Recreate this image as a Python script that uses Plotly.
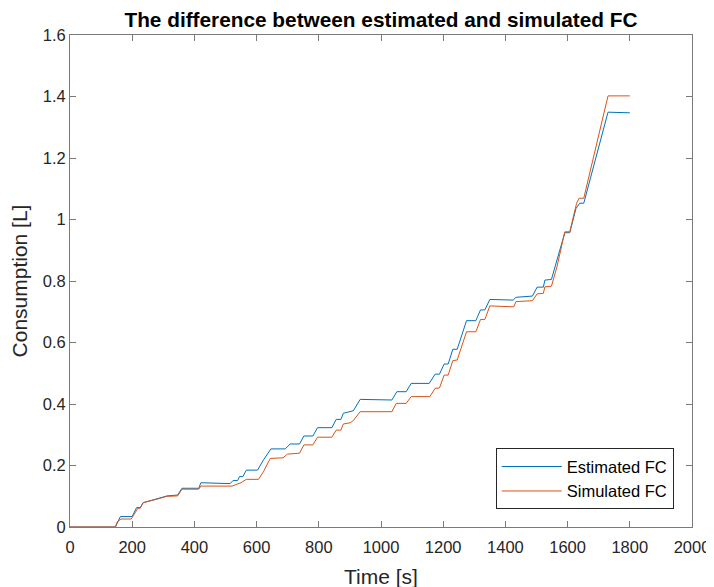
import plotly.graph_objects as go

# Estimated FC (blue)
time_est = [0, 146, 162, 200, 214, 226, 235, 285, 312, 346, 360, 414, 421, 515, 524, 539, 545, 556, 567, 603,
            622, 646, 692, 708, 738, 752, 781, 796, 842, 856, 871, 879, 901, 911, 933, 1035, 1051, 1081, 1097, 1155,
            1174, 1188, 1203, 1216, 1231, 1245, 1275, 1305, 1320, 1334, 1350, 1425, 1434, 1487, 1502, 1522, 1527, 1548,
            1591, 1607, 1627, 1639, 1652, 1730, 1800]
fc_est = [0, 0, 0.034, 0.034, 0.063, 0.063, 0.079, 0.093, 0.101, 0.104, 0.126, 0.126, 0.144, 0.141, 0.151, 0.151,
          0.164, 0.164, 0.185, 0.185, 0.218, 0.254, 0.254, 0.270, 0.270, 0.296, 0.296, 0.323, 0.323, 0.350, 0.350,
          0.370, 0.375, 0.378, 0.415, 0.413, 0.440, 0.440, 0.467, 0.467, 0.497, 0.497, 0.530, 0.530, 0.578, 0.578,
          0.671, 0.671, 0.706, 0.706, 0.740, 0.738, 0.747, 0.751, 0.780, 0.780, 0.803, 0.805, 0.957, 0.957, 1.036,
          1.053, 1.053, 1.349, 1.347]

# Simulated FC (orange)
time_sim = [0, 146, 152, 164, 197, 218, 226, 235, 285, 312, 346, 360, 414, 421, 521, 537, 550, 567, 606, 622,
            644, 685, 699, 738, 752, 781, 796, 842, 856, 871, 879, 901, 911, 933, 1035, 1049, 1081, 1097, 1157, 1174,
            1188, 1203, 1216, 1231, 1245, 1275, 1305, 1320, 1334, 1350, 1427, 1434, 1487, 1502, 1522, 1527, 1548, 1566,
            1591, 1607, 1629, 1637, 1652, 1730, 1800]
fc_sim = [0, 0, 0.017, 0.026, 0.026, 0.061, 0.061, 0.079, 0.092, 0.100, 0.101, 0.123, 0.123, 0.133, 0.133, 0.140,
          0.144, 0.155, 0.155, 0.180, 0.223, 0.225, 0.237, 0.240, 0.267, 0.267, 0.292, 0.292, 0.315, 0.315, 0.335,
          0.339, 0.346, 0.375, 0.375, 0.402, 0.402, 0.424, 0.424, 0.451, 0.452, 0.494, 0.494, 0.541, 0.543, 0.635,
          0.635, 0.675, 0.675, 0.719, 0.716, 0.733, 0.736, 0.758, 0.760, 0.781, 0.783, 0.847, 0.960, 0.960, 1.053,
          1.069, 1.069, 1.402, 1.402]

FONT = "Liberation Sans, Arial, Helvetica, sans-serif"
TXT = "#262626"
AX = "#7a7a7a"

fig = go.Figure()
fig.add_trace(go.Scatter(x=time_est, y=fc_est, mode="lines", name="Estimated FC",
                         line=dict(color="#0072BD", width=1)))
fig.add_trace(go.Scatter(x=time_sim, y=fc_sim, mode="lines", name="Simulated FC",
                         line=dict(color="#D95319", width=1)))

axis_common = dict(showgrid=False, zeroline=False, showline=True, linecolor=AX, linewidth=1,
                   mirror="ticks", ticks="inside", ticklen=6, tickcolor=AX, tickwidth=1,
                   automargin=False,
                   tickfont=dict(family=FONT, size=16.5, color=TXT))

fig.update_layout(
    width=714, height=587,
    margin=dict(l=62, r=29.7, t=27, b=68, pad=0),
    paper_bgcolor="white", plot_bgcolor="white",
    font=dict(family=FONT, color=TXT),
    title=dict(text="<b>The difference between estimated and simulated FC</b>",
               x=0.5224, xanchor="center", y=0.992, yanchor="top",
               font=dict(family=FONT, size=20.8, color="black")),
    xaxis=dict(range=[0, 2000], dtick=200, tick0=0, ticklabelstandoff=5,
               title=dict(text="Time [s]", font=dict(family=FONT, size=21, color=TXT), standoff=14),
               **axis_common),
    yaxis=dict(range=[0, 1.6], dtick=0.2, tick0=0,
               title=dict(text="Consumption [L]", font=dict(family=FONT, size=21, color=TXT), standoff=12),
               **axis_common),
    legend=dict(x=0.9706, xanchor="right", y=0.036, yanchor="bottom",
                bgcolor="white", bordercolor="#262626", borderwidth=1,
                font=dict(family=FONT, size=16.5, color="black"),
                itemwidth=60, tracegroupgap=0),
    showlegend=True,
)

fig.write_html("out.html")
